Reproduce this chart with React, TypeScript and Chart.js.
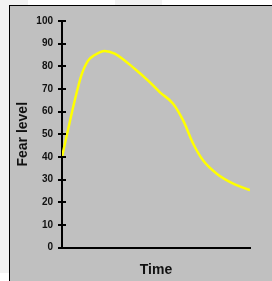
import React, { useEffect, useRef } from "react";
import { Chart, registerables } from "chart.js";

Chart.register(...registerables);

const timePoints = [0, 3.2, 6.8, 10.3, 13.8, 17.4, 22.7, 28, 38.8, 46.8, 52.1, 59.2, 64.5, 69.8, 75, 82.3, 91.1, 100];
const fearValues = [40, 52, 65, 76, 82.4, 85, 86.8, 85.6, 78.8, 72.9, 68.5, 63.4, 56, 45.8, 38.5, 32.6, 28.2, 25.3];
const yTicks = [0, 10, 20, 30, 40, 50, 60, 70, 80, 90, 100];
const yTitle = "Fear level";
const xTitle = "Time";

const FONT = "'Liberation Sans', Arial, sans-serif";

const tickMarks = {
  id: "tickMarks",
  afterDraw(chart: any) {
    const ctx = chart.ctx;
    const ys = chart.scales.y;
    const x = chart.chartArea.left;
    ctx.save();
    ctx.strokeStyle = "#000";
    ctx.lineWidth = 2;
    for (const v of yTicks) {
      const y = Math.round(ys.getPixelForValue(v));
      ctx.beginPath();
      ctx.moveTo(x - 4, y);
      ctx.lineTo(x + 4, y);
      ctx.stroke();
    }
    ctx.restore();
  },
};

export default function App() {
  const ref = useRef<HTMLCanvasElement | null>(null);
  useEffect(() => {
    if (!ref.current) return;
    const chart = new Chart(ref.current, {
      type: "line",
      data: {
        datasets: [
          {
            data: timePoints.map((t, i) => ({ x: t, y: fearValues[i] })),
            borderColor: "#ffff00",
            borderWidth: 2.5,
            pointRadius: 0,
            cubicInterpolationMode: "monotone",
            fill: false,
          },
        ],
      },
      options: {
        animation: false,
        responsive: false,
        maintainAspectRatio: false,
        layout: { padding: { left: 0, top: 14, right: 22, bottom: 0 } },
        plugins: { legend: { display: false }, tooltip: { enabled: false } },
        scales: {
          x: {
            type: "linear",
            min: 0,
            max: 100,
            grid: { display: false, drawTicks: false },
            border: { display: true, color: "#000", width: 2 },
            ticks: { display: false },
            afterFit(s: any) {
              s.height = 33.5;
            },
            title: {
              display: true,
              text: xTitle,
              color: "#111",
              font: { family: FONT, size: 14, weight: "bold", lineHeight: 1.2 },
              padding: { top: 0, bottom: 2.6 },
            },
          },
          y: {
            min: 0,
            max: 100,
            grid: { display: false, drawTicks: false },
            border: { display: true, color: "#000", width: 2 },
            ticks: {
              stepSize: 10,
              padding: 9,
              color: "#111",
              font: { family: FONT, size: 10, weight: "bold" },
            },
            afterFit(s: any) {
              s.width = 52;
            },
            title: {
              display: true,
              text: yTitle,
              color: "#111",
              font: { family: FONT, size: 14, weight: "bold", lineHeight: 1.2 },
              padding: { top: 4.6, bottom: 0 },
            },
          },
        },
      },
      plugins: [tickMarks],
    } as any);
    return () => chart.destroy();
  }, []);

  return (
    <div style={{ position: "fixed", left: 0, top: 0, width: 272, height: 281, background: "#fff", overflow: "hidden" }}>
      <div style={{ position: "absolute", left: 0, top: 0, width: 9, height: 273, background: "#f2f2f2" }} />
      <div style={{ position: "absolute", left: 0, top: 0, width: 28, height: 5, background: "#f2f2f2" }} />
      <div style={{ position: "absolute", left: 115, top: 0, width: 47, height: 5, background: "#f2f2f2" }} />
      <div
        style={{
          position: "absolute",
          left: 9,
          top: 5,
          width: 270,
          height: 290,
          background: "#c0c0c0",
          borderTop: "1px solid #000",
          borderLeft: "1px solid #000",
        }}
      >
        <canvas ref={ref} width={262} height={275} style={{ display: "block", width: 262, height: 275 }} />
      </div>
    </div>
  );
}
